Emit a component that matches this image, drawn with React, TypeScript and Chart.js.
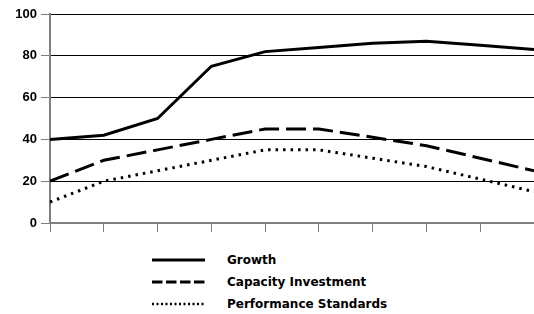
import React, { useEffect, useRef } from "react";
import { Chart, registerables } from "chart.js";

Chart.register(...registerables);

const categories = ["1", "2", "3", "4", "5", "6", "7", "8", "9", "10"];
const growth = [40, 42, 50, 75, 82, 84, 86, 87, 85, 83];
const capacityInvestment = [20, 30, 35, 40, 45, 45, 41, 37, 31, 25];
const performanceStandards = [10, 20, 25, 30, 35, 35, 31, 27, 21, 15];
const yTicks = [0, 20, 40, 60, 80, 100];

const seriesNames = ["Growth", "Capacity Investment", "Performance Standards"];
const dashes: number[][] = [[], [20, 7], [2.5, 5]];

export default function App() {
  const ref = useRef<HTMLCanvasElement>(null);
  useEffect(() => {
    document.body.style.margin = "0";
    const ctx = ref.current!.getContext("2d")!;
    const chart = new Chart(ctx, {
      type: "line",
      data: {
        labels: categories,
        datasets: [growth, capacityInvestment, performanceStandards].map((d, i) => ({
          label: seriesNames[i],
          data: d,
          borderColor: "#000",
          borderWidth: 3,
          borderDash: dashes[i],
          pointRadius: 0,
          tension: 0,
          fill: false,
        })),
      },
      options: {
        animation: false,
        responsive: false,
        maintainAspectRatio: false,
        layout: { padding: { top: 14, right: 0, left: 0, bottom: 0 } },
        plugins: { legend: { display: false }, tooltip: { enabled: false } },
        scales: {
          x: {
            offset: false,
            grid: {
              drawOnChartArea: false,
              drawTicks: true,
              tickLength: 9,
              color: "#808080",
              lineWidth: 1,
            },
            border: { color: "#808080", width: 2 },
            ticks: { display: false },
            afterFit: (s: any) => {
              s.height = 17;
            },
          },
          y: {
            min: 0,
            max: 100,
            afterBuildTicks: (s: any) => {
              s.ticks = yTicks.map((v) => ({ value: v }));
            },
            grid: {
              color: "#000",
              lineWidth: 1,
              tickLength: 9,
              tickColor: "#808080",
            },
            border: { color: "#808080", width: 2 },
            ticks: {
              color: "#000",
              padding: 4,
              font: { family: "Liberation Sans, Arial", size: 13, weight: "bold" },
            },
            afterFit: (s: any) => {
              s.width = 50;
            },
          },
        },
      },
    });
    return () => chart.destroy();
  }, []);

  const rowY = [260, 282, 304];
  return (
    <div style={{ position: "absolute", left: 0, top: 0, width: 534, height: 314, background: "#fff" }}>
      <canvas ref={ref} width={534} height={240} style={{ position: "absolute", left: 0, top: 0 }} />
      {seriesNames.map((name, i) => (
        <div key={name}>
          <svg
            width={56}
            height={6}
            style={{ position: "absolute", left: 151, top: rowY[i] - 3 }}
          >
            <line
              x1={1}
              y1={3}
              x2={54}
              y2={3}
              stroke="#000"
              strokeWidth={i === 2 ? 2.5 : 3}
              strokeDasharray={i === 0 ? undefined : i === 1 ? "10.5 3.5" : "2 2.5"}
            />
          </svg>
          <div
            style={{
              position: "absolute",
              left: 227,
              top: rowY[i] - 8,
              fontFamily: "DejaVu Sans",
              fontWeight: "bold",
              fontSize: 12,
              lineHeight: "16px",
              whiteSpace: "nowrap",
              color: "#000",
            }}
          >
            {name}
          </div>
        </div>
      ))}
    </div>
  );
}
